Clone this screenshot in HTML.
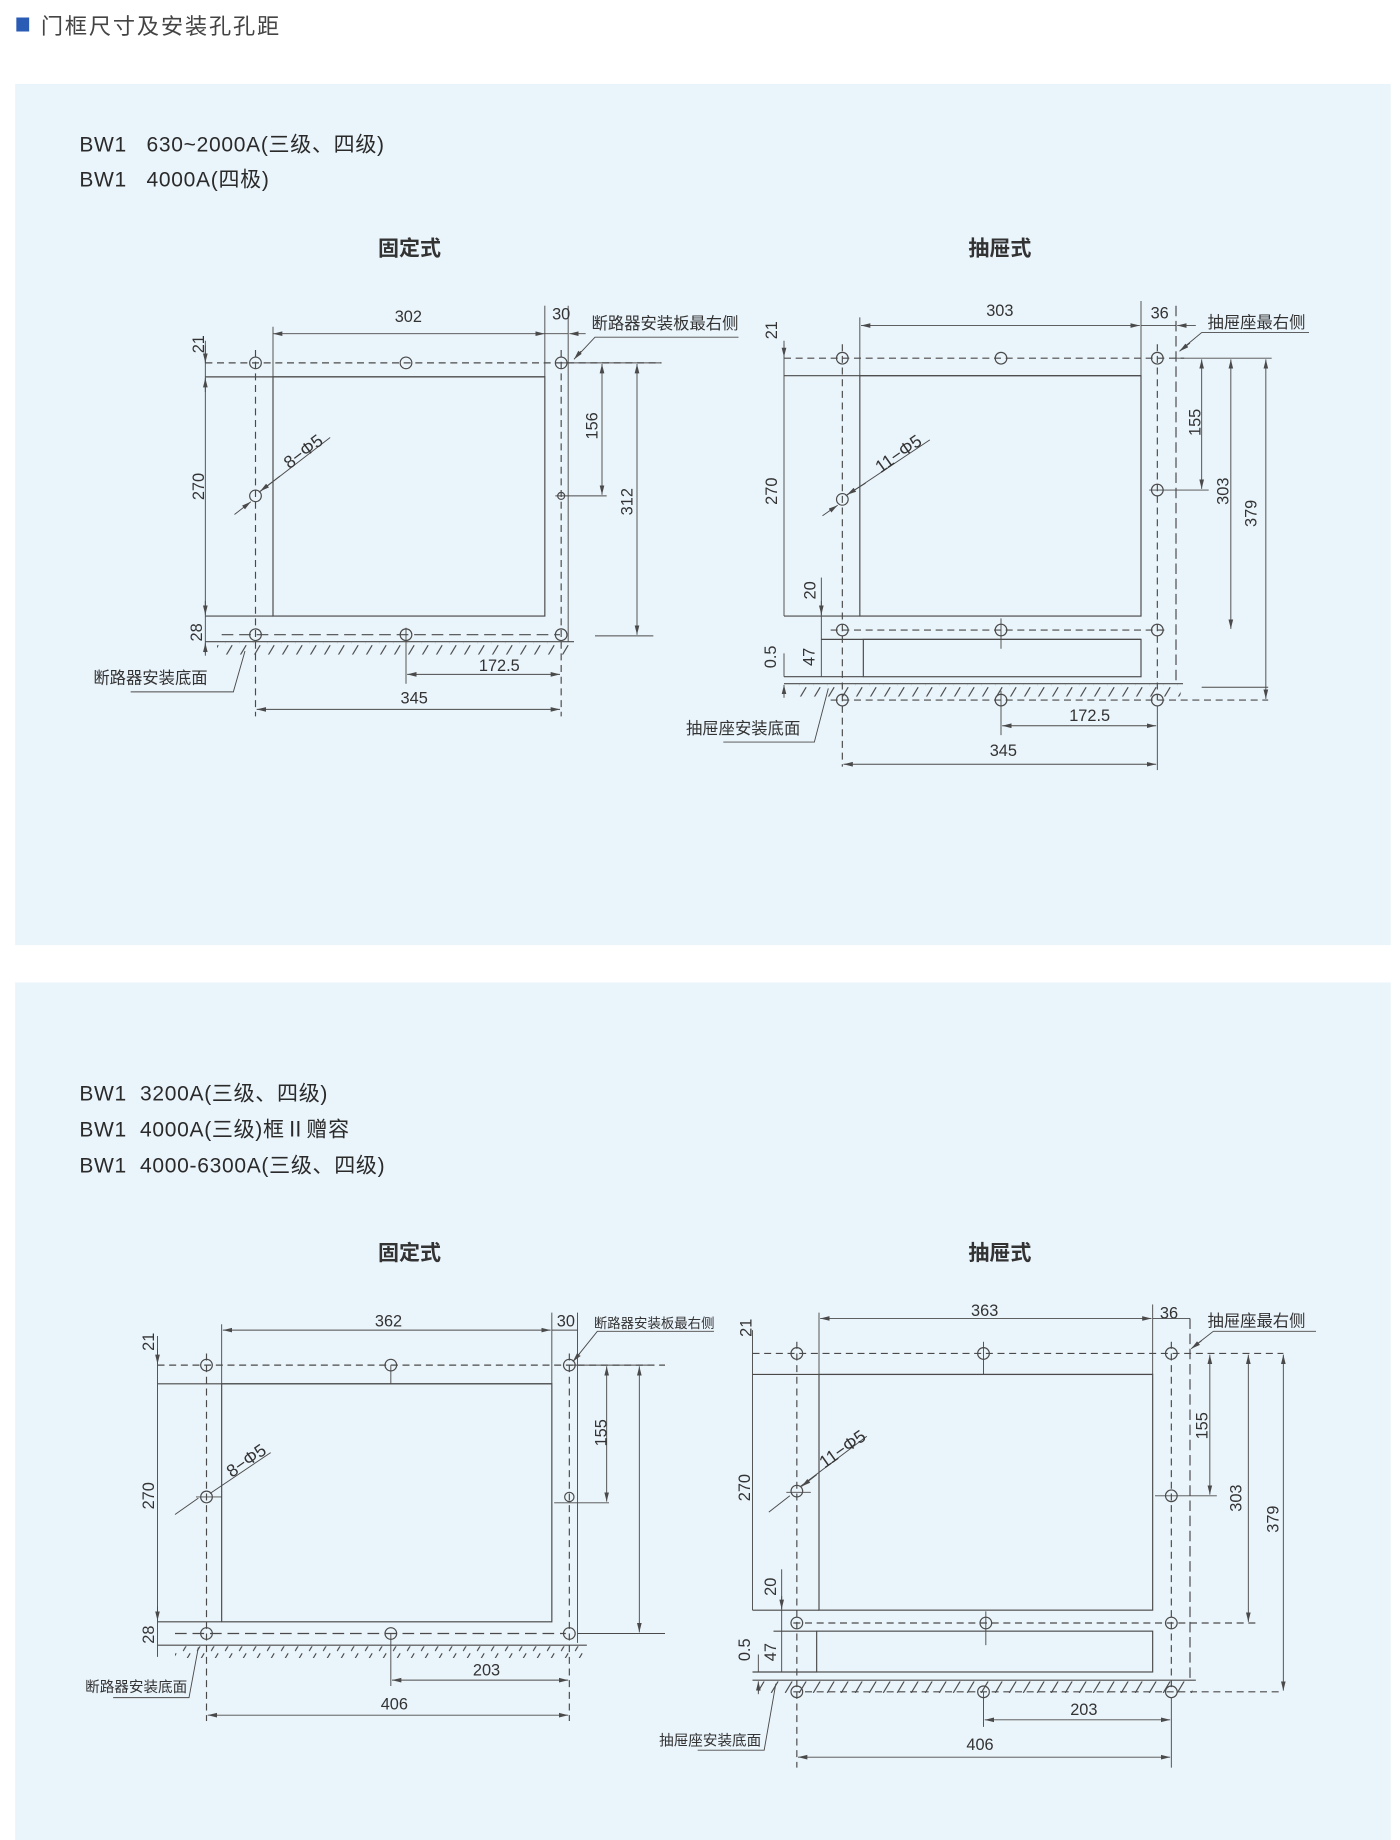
<!DOCTYPE html>
<html><head><meta charset="utf-8">
<style>
html,body{margin:0;padding:0;background:#fff;}
svg{display:block;}
text{font-family:"Liberation Sans","Noto Sans CJK SC",sans-serif;fill:#333;}
.s{stroke:#4a4a4a;stroke-width:1;fill:none;}
.t{stroke:#4a4a4a;stroke-width:0.8;fill:none;}
.d{stroke:#4a4a4a;stroke-width:1;fill:none;stroke-dasharray:6 4;}
.h{fill:none;stroke:#4a4a4a;stroke-width:1;}
.a{stroke:#4a4a4a;stroke-width:0.8;fill:none;marker-end:url(#ar);}
.aa{stroke:#4a4a4a;stroke-width:0.8;fill:none;marker-end:url(#ar);marker-start:url(#as);}
.n{font-size:14px;}
.c{font-size:14px;}
.m{font-size:18px;letter-spacing:0.6px;fill:#2a2a2a;}
</style></head>
<body>
<svg width="1400" height="1840" viewBox="0 0 1200 1577" preserveAspectRatio="none" xmlns="http://www.w3.org/2000/svg">
<defs>
<marker id="ar" markerWidth="8" markerHeight="6" refX="8" refY="3" orient="auto" markerUnits="userSpaceOnUse"><path d="M0,1 L8,3 L0,5" fill="#4a4a4a"/></marker>
<marker id="as" markerWidth="8" markerHeight="6" refX="0" refY="3" orient="auto" markerUnits="userSpaceOnUse"><path d="M8,1 L0,3 L8,5" fill="#4a4a4a"/></marker>
<pattern id="hp" width="12" height="12" patternUnits="userSpaceOnUse"><line x1="1" y1="11" x2="7" y2="1" stroke="#4a4a4a" stroke-width="1"/></pattern>
</defs>

<!-- header -->
<rect x="14" y="15" width="11" height="12" fill="#2a5bb5"/>
<text x="35" y="29" style="font-size:19px;letter-spacing:1.6px;fill:#444">门框尺寸及安装孔孔距</text>

<!-- panels -->
<rect x="13" y="72" width="1179" height="738" fill="#eaf4fb"/>
<rect x="13" y="842" width="1179" height="735" fill="#eaf4fb"/>

<text class="m" x="68" y="130">BW1&#160;&#160;&#160;630~2000A(三级、四级)</text>
<text class="m" x="68" y="160">BW1&#160;&#160;&#160;4000A(四极)</text>
<text x="351" y="219" text-anchor="middle" style="font-size:18px;font-weight:bold">固定式</text>
<text x="857" y="219" text-anchor="middle" style="font-size:18px;font-weight:bold">抽屉式</text>

<text class="m" x="68" y="943">BW1&#160;&#160;3200A(三级、四级)</text>
<text class="m" x="68" y="974">BW1&#160;&#160;4000A(三级)框Ⅱ赠容</text>
<text class="m" x="68" y="1005">BW1&#160;&#160;4000-6300A(三级、四级)</text>
<text x="351" y="1080" text-anchor="middle" style="font-size:18px;font-weight:bold">固定式</text>
<text x="857" y="1080" text-anchor="middle" style="font-size:18px;font-weight:bold">抽屉式</text>

<!-- ============ Diagram 1: fixed ============ -->
<g>
<line class="d" x1="176" y1="311" x2="567" y2="311"/>
<line class="s" x1="176" y1="323" x2="467" y2="323"/>
<rect class="s" x="234" y="323" width="233" height="205"/>
<line class="s" x1="176" y1="528" x2="234" y2="528"/>
<line class="t" x1="176" y1="292" x2="176" y2="560"/>
<line class="d" x1="219" y1="300" x2="219" y2="614"/>
<line class="d" x1="481" y1="300" x2="481" y2="614"/>
<line class="t" x1="487" y1="262" x2="487" y2="550"/>
<line class="d" x1="190" y1="544" x2="480" y2="544" style="stroke-dasharray:10 5"/>
<line class="s" x1="176" y1="550" x2="492" y2="550"/>
<rect x="186" y="551" width="306" height="10" fill="url(#hp)"/>
<g class="h"><circle cx="219" cy="311" r="5"/><circle cx="348" cy="311" r="5"/><circle cx="481" cy="311" r="5"/><circle cx="219" cy="425" r="5"/><circle cx="481" cy="425" r="3"/><circle cx="219" cy="544" r="5"/><circle cx="348" cy="544" r="5"/><circle cx="481" cy="544" r="5"/></g>
<line class="t" x1="234" y1="280" x2="234" y2="323"/>
<line class="t" x1="467" y1="262" x2="467" y2="323"/>
<line class="aa" x1="234" y1="286" x2="467" y2="286"/>
<text class="n" x="350" y="276" text-anchor="middle">302</text>
<line class="t" x1="467" y1="286" x2="487" y2="286"/>
<text class="n" x="481" y="274" text-anchor="middle">30</text>
<line class="a" x1="502" y1="286" x2="488" y2="286"/>
<text class="c" x="507" y="282">断路器安装板最右侧</text>
<polyline class="t" points="633,289 510,289 494,306"/>
<line class="a" x1="498" y1="301" x2="492" y2="308"/>
<line class="a" x1="176" y1="296" x2="176" y2="311"/>
<line class="a" x1="176" y1="336" x2="176" y2="324"/>
<text class="n" transform="translate(175,295) rotate(-90)" text-anchor="middle">21</text>
<text class="n" transform="translate(175,417) rotate(-90)" text-anchor="middle">270</text>
<text class="n" transform="translate(173,542) rotate(-90)" text-anchor="middle">28</text>
<line class="a" x1="176" y1="515" x2="176" y2="527"/>
<line class="a" x1="176" y1="562" x2="176" y2="551"/>
<line class="t" x1="481" y1="311" x2="522" y2="311"/>
<line class="t" x1="476" y1="425" x2="520" y2="425"/>
<line class="aa" x1="516" y1="312" x2="516" y2="424"/>
<text class="n" transform="translate(512,365) rotate(-90)" text-anchor="middle">156</text>
<line class="t" x1="520" y1="311" x2="567" y2="311"/>
<line class="aa" x1="546" y1="312" x2="546" y2="544"/>
<line class="t" x1="510" y1="545" x2="560" y2="545"/>
<text class="n" transform="translate(542,430) rotate(-90)" text-anchor="middle">312</text>
<line class="t" x1="283" y1="375" x2="222" y2="422"/>
<line class="a" x1="240" y1="408" x2="223" y2="421"/>
<line class="a" x1="201" y1="441" x2="215" y2="430"/>
<text transform="translate(263,391) rotate(-37)" text-anchor="middle" style="font-size:15px">8−Φ5</text>
<line class="t" x1="348" y1="538" x2="348" y2="586"/>
<line class="aa" x1="349" y1="578" x2="480" y2="578"/>
<text class="n" x="428" y="575" text-anchor="middle">172.5</text>
<line class="aa" x1="220" y1="608" x2="480" y2="608"/>
<text class="n" x="355" y="603" text-anchor="middle">345</text>
<text class="c" x="80" y="586">断路器安装底面</text>
<polyline class="t" points="112,593 200,593 210,558"/>
</g>

<!-- ============ Diagram 2: drawer ============ -->
<g>
<line class="d" x1="672" y1="307" x2="1015" y2="307"/>
<line class="s" x1="672" y1="322" x2="978" y2="322"/>
<rect class="s" x="737" y="322" width="241" height="206"/>
<line class="s" x1="672" y1="528" x2="737" y2="528"/>
<line class="t" x1="672" y1="292" x2="672" y2="528"/>
<line class="d" x1="722" y1="295" x2="722" y2="657"/>
<line class="d" x1="992" y1="295" x2="992" y2="600"/>
<line class="d" x1="1008" y1="262" x2="1008" y2="585" style="stroke-dasharray:9 4"/>
<line class="d" x1="712" y1="540" x2="1000" y2="540"/>
<line class="s" x1="704" y1="548" x2="978" y2="548"/>
<rect class="s" x="740" y="548" width="238" height="32"/>
<line class="s" x1="672" y1="580" x2="740" y2="580"/>
<line class="s" x1="672" y1="586" x2="1014" y2="586"/>
<rect x="682" y="587" width="330" height="10" fill="url(#hp)"/>
<line class="d" x1="712" y1="600" x2="1087" y2="600"/>
<line class="t" x1="1030" y1="589" x2="1087" y2="589"/>
<g class="h"><circle cx="722" cy="307" r="5"/><circle cx="858" cy="307" r="5"/><circle cx="992" cy="307" r="5"/><circle cx="722" cy="428" r="5"/><circle cx="992" cy="420" r="5"/><circle cx="722" cy="540" r="5"/><circle cx="858" cy="540" r="5"/><circle cx="992" cy="540" r="5"/><circle cx="722" cy="600" r="5"/><circle cx="858" cy="600" r="5"/><circle cx="992" cy="600" r="5"/></g>
<line class="t" x1="858" y1="530" x2="858" y2="556"/>
<line class="t" x1="858" y1="592" x2="858" y2="630"/>
<line class="t" x1="737" y1="272" x2="737" y2="322"/>
<line class="t" x1="978" y1="258" x2="978" y2="322"/>
<line class="aa" x1="738" y1="279" x2="977" y2="279"/>
<text class="n" x="857" y="271" text-anchor="middle">303</text>
<line class="t" x1="978" y1="279" x2="1008" y2="279"/>
<text class="n" x="994" y="273" text-anchor="middle">36</text>
<line class="a" x1="1025" y1="279" x2="1009" y2="279"/>
<text class="c" x="1035" y="281">抽屉座最右侧</text>
<polyline class="t" points="1122,285 1030,285 1012,300"/>
<line class="a" x1="1020" y1="294" x2="1011" y2="301"/>
<line class="a" x1="672" y1="295" x2="672" y2="306"/>
<text class="n" transform="translate(666,283) rotate(-90)" text-anchor="middle">21</text>
<text class="n" transform="translate(666,421) rotate(-90)" text-anchor="middle">270</text>
<line class="t" x1="704" y1="495" x2="704" y2="580"/>
<line class="a" x1="704" y1="515" x2="704" y2="527"/>
<text class="n" transform="translate(699,506) rotate(-90)" text-anchor="middle">20</text>
<text class="n" transform="translate(698,563) rotate(-90)" text-anchor="middle">47</text>
<line class="t" x1="672" y1="560" x2="672" y2="580"/>
<line class="a" x1="672" y1="598" x2="672" y2="587"/>
<text class="n" transform="translate(665,563) rotate(-90)" text-anchor="middle">0.5</text>
<line class="t" x1="1008" y1="307" x2="1090" y2="307"/>
<line class="t" x1="985" y1="420" x2="1036" y2="420"/>
<line class="aa" x1="1030" y1="308" x2="1030" y2="419"/>
<text class="n" transform="translate(1029,362) rotate(-90)" text-anchor="middle">155</text>
<line class="aa" x1="1055" y1="308" x2="1055" y2="539"/>
<text class="n" transform="translate(1053,421) rotate(-90)" text-anchor="middle">303</text>
<line class="aa" x1="1085" y1="308" x2="1085" y2="599"/>
<text class="n" transform="translate(1077,440) rotate(-90)" text-anchor="middle">379</text>
<line class="t" x1="797" y1="377" x2="725" y2="425"/>
<line class="a" x1="742" y1="414" x2="726" y2="424"/>
<line class="a" x1="705" y1="442" x2="718" y2="433"/>
<text transform="translate(773,393) rotate(-35)" text-anchor="middle" style="font-size:15px">11−Φ5</text>
<line class="aa" x1="859" y1="622" x2="991" y2="622"/>
<text class="n" x="934" y="618" text-anchor="middle">172.5</text>
<line class="t" x1="992" y1="605" x2="992" y2="660"/>
<line class="aa" x1="723" y1="655" x2="991" y2="655"/>
<text class="n" x="860" y="648" text-anchor="middle">345</text>
<text class="c" x="588" y="629">抽屉座安装底面</text>
<polyline class="t" points="620,636 698,636 710,590"/>
</g>

<!-- ============ Diagram 3: fixed big ============ -->
<g>
<line class="d" x1="135" y1="1170" x2="570" y2="1170"/>
<line class="s" x1="135" y1="1186" x2="473" y2="1186"/>
<rect class="s" x="190" y="1186" width="283" height="204"/>
<line class="s" x1="135" y1="1390" x2="190" y2="1390"/>
<line class="t" x1="135" y1="1145" x2="135" y2="1420"/>
<line class="d" x1="177" y1="1160" x2="177" y2="1475"/>
<line class="d" x1="488" y1="1160" x2="488" y2="1475"/>
<line class="t" x1="495" y1="1125" x2="495" y2="1408"/>
<line class="d" x1="150" y1="1400" x2="485" y2="1400" style="stroke-dasharray:10 5"/>
<line class="s" x1="135" y1="1410" x2="503" y2="1410"/>
<rect x="150" y="1411" width="350" height="10" fill="url(#hp)"/>
<g class="h"><circle cx="177" cy="1170" r="5"/><circle cx="335" cy="1170" r="5"/><circle cx="488" cy="1170" r="5"/><circle cx="177" cy="1283" r="5"/><circle cx="488" cy="1283" r="4"/><circle cx="177" cy="1400" r="5"/><circle cx="335" cy="1400" r="5"/><circle cx="488" cy="1400" r="5"/></g>
<line class="t" x1="335" y1="1170" x2="335" y2="1186"/>
<line class="t" x1="190" y1="1135" x2="190" y2="1186"/>
<line class="t" x1="473" y1="1125" x2="473" y2="1186"/>
<line class="aa" x1="191" y1="1140" x2="472" y2="1140"/>
<text class="n" x="333" y="1137" text-anchor="middle">362</text>
<line class="t" x1="473" y1="1140" x2="495" y2="1140"/>
<text class="n" x="485" y="1137" text-anchor="middle">30</text>
<text class="c" x="509" y="1138" style="font-size:11.5px">断路器安装板最右侧</text>
<polyline class="t" points="612,1141 512,1141 492,1166"/>
<line class="a" x1="497" y1="1160" x2="491" y2="1167"/>
<text class="n" transform="translate(132,1150) rotate(-90)" text-anchor="middle">21</text>
<text class="n" transform="translate(132,1282) rotate(-90)" text-anchor="middle">270</text>
<text class="n" transform="translate(132,1401) rotate(-90)" text-anchor="middle">28</text>
<line class="a" x1="135" y1="1156" x2="135" y2="1169"/>
<line class="a" x1="135" y1="1377" x2="135" y2="1389"/>
<line class="t" x1="488" y1="1170" x2="555" y2="1170"/>
<line class="t" x1="475" y1="1288" x2="522" y2="1288"/>
<line class="aa" x1="520" y1="1171" x2="520" y2="1287"/>
<text class="n" transform="translate(520,1228) rotate(-90)" text-anchor="middle">155</text>
<line class="aa" x1="548" y1="1171" x2="548" y2="1399"/>
<line class="t" x1="495" y1="1400" x2="570" y2="1400"/>
<line class="t" x1="232" y1="1245" x2="180" y2="1280"/>
<line class="t" x1="170" y1="1284" x2="150" y2="1298"/>
<line class="t" x1="168" y1="1283" x2="190" y2="1283"/>
<text transform="translate(214,1256) rotate(-35)" text-anchor="middle" style="font-size:15px">8−Φ5</text>
<line class="t" x1="335" y1="1400" x2="335" y2="1445"/>
<line class="aa" x1="336" y1="1440" x2="487" y2="1440"/>
<text class="n" x="417" y="1436" text-anchor="middle">203</text>
<line class="aa" x1="178" y1="1470" x2="487" y2="1470"/>
<text class="n" x="338" y="1465" text-anchor="middle">406</text>
<text class="c" x="73" y="1450" style="font-size:12.5px">断路器安装底面</text>
<polyline class="t" points="97,1455 162,1455 170,1412"/>
</g>

<!-- ============ Diagram 4: drawer big ============ -->
<g>
<line class="d" x1="645" y1="1160" x2="1100" y2="1160"/>
<line class="s" x1="645" y1="1178" x2="988" y2="1178"/>
<rect class="s" x="702" y="1178" width="286" height="202"/>
<line class="s" x1="645" y1="1380" x2="702" y2="1380"/>
<line class="t" x1="645" y1="1140" x2="645" y2="1380"/>
<line class="d" x1="683" y1="1150" x2="683" y2="1515"/>
<line class="d" x1="1004" y1="1150" x2="1004" y2="1450"/>
<line class="d" x1="1020" y1="1130" x2="1020" y2="1438" style="stroke-dasharray:9 4"/>
<line class="d" x1="680" y1="1391" x2="1077" y2="1391"/>
<line class="s" x1="663" y1="1398" x2="700" y2="1398"/>
<rect class="s" x="700" y="1398" width="288" height="35"/>
<line class="s" x1="645" y1="1433" x2="700" y2="1433"/>
<line class="s" x1="645" y1="1440" x2="1025" y2="1440"/>
<rect x="650" y="1441" width="372" height="10" fill="url(#hp)"/>
<line class="d" x1="680" y1="1450" x2="1100" y2="1450"/>
<g class="h"><circle cx="683" cy="1160" r="5"/><circle cx="843" cy="1160" r="5"/><circle cx="1004" cy="1160" r="5"/><circle cx="683" cy="1278" r="5"/><circle cx="1004" cy="1282" r="5"/><circle cx="683" cy="1391" r="5"/><circle cx="845" cy="1391" r="5"/><circle cx="1004" cy="1391" r="5"/><circle cx="683" cy="1450" r="5"/><circle cx="843" cy="1450" r="5"/><circle cx="1004" cy="1450" r="5"/></g>
<line class="t" x1="843" y1="1150" x2="843" y2="1178"/>
<line class="t" x1="845" y1="1381" x2="845" y2="1410"/>
<line class="t" x1="843" y1="1450" x2="843" y2="1480"/>
<line class="t" x1="702" y1="1125" x2="702" y2="1178"/>
<line class="t" x1="988" y1="1118" x2="988" y2="1178"/>
<line class="aa" x1="703" y1="1130" x2="987" y2="1130"/>
<text class="n" x="844" y="1128" text-anchor="middle">363</text>
<line class="t" x1="988" y1="1130" x2="1020" y2="1130"/>
<text class="n" x="1002" y="1130" text-anchor="middle">36</text>
<text class="c" x="1035" y="1137">抽屉座最右侧</text>
<polyline class="t" points="1128,1141 1040,1141 1022,1155"/>
<line class="a" x1="1030" y1="1149" x2="1021" y2="1156"/>
<text class="n" transform="translate(644,1138) rotate(-90)" text-anchor="middle">21</text>
<text class="n" transform="translate(643,1275) rotate(-90)" text-anchor="middle">270</text>
<line class="t" x1="670" y1="1345" x2="670" y2="1433"/>
<line class="a" x1="670" y1="1368" x2="670" y2="1379"/>
<text class="n" transform="translate(665,1360) rotate(-90)" text-anchor="middle">20</text>
<text class="n" transform="translate(665,1416) rotate(-90)" text-anchor="middle">47</text>
<line class="t" x1="650" y1="1418" x2="650" y2="1433"/>
<line class="a" x1="650" y1="1452" x2="650" y2="1441"/>
<text class="n" transform="translate(643,1414) rotate(-90)" text-anchor="middle">0.5</text>
<line class="t" x1="990" y1="1282" x2="1043" y2="1282"/>
<line class="aa" x1="1037" y1="1161" x2="1037" y2="1281"/>
<text class="n" transform="translate(1035,1222) rotate(-90)" text-anchor="middle">155</text>
<line class="aa" x1="1070" y1="1161" x2="1070" y2="1390"/>
<text class="n" transform="translate(1064,1284) rotate(-90)" text-anchor="middle">303</text>
<line class="aa" x1="1100" y1="1161" x2="1100" y2="1449"/>
<text class="n" transform="translate(1096,1302) rotate(-90)" text-anchor="middle">379</text>
<line class="t" x1="743" y1="1231" x2="686" y2="1274"/>
<line class="a" x1="700" y1="1264" x2="687" y2="1274"/>
<line class="t" x1="677" y1="1282" x2="659" y2="1296"/>
<line class="t" x1="674" y1="1279" x2="695" y2="1279"/>
<text transform="translate(725,1246) rotate(-35)" text-anchor="middle" style="font-size:15px">11−Φ5</text>
<line class="aa" x1="844" y1="1474" x2="1003" y2="1474"/>
<text class="n" x="929" y="1470" text-anchor="middle">203</text>
<line class="t" x1="1004" y1="1455" x2="1004" y2="1515"/>
<line class="aa" x1="684" y1="1506" x2="1003" y2="1506"/>
<text class="n" x="840" y="1500" text-anchor="middle">406</text>
<text class="c" x="565" y="1496" style="font-size:12.5px">抽屉座安装底面</text>
<polyline class="t" points="598,1500 655,1500 665,1443"/>
</g>
</svg>
</body></html>
